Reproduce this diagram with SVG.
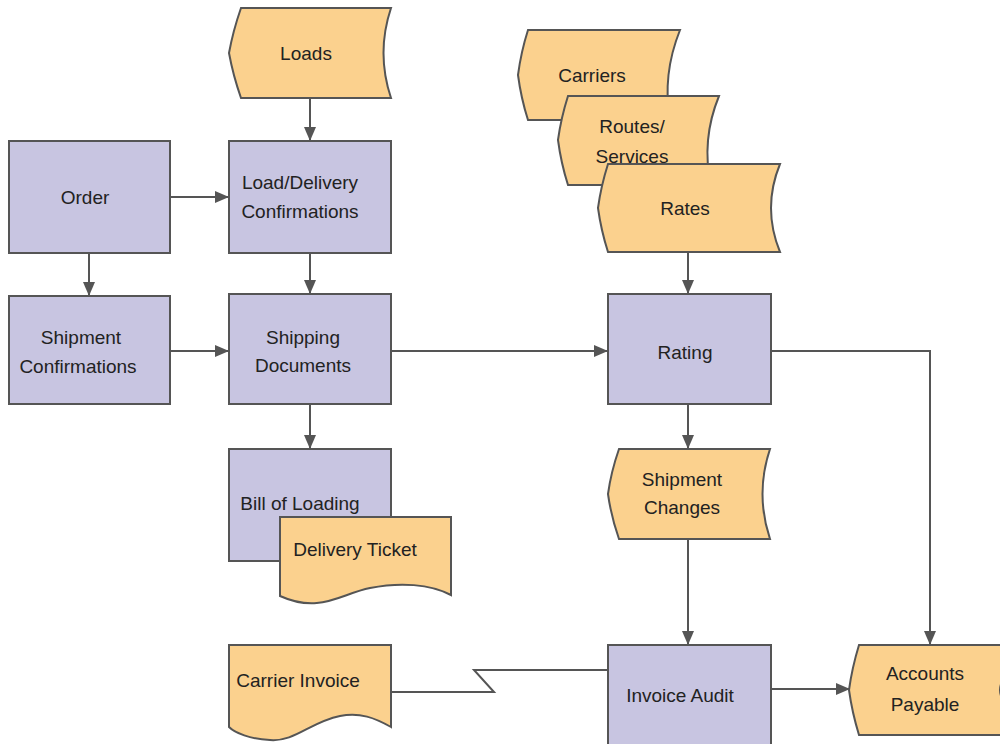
<svg xmlns="http://www.w3.org/2000/svg" width="1000" height="744" viewBox="0 0 1000 744">
<defs>
<style>
.proc{fill:#c8c5e1;stroke:#555;stroke-width:2}
.data{fill:#fbd18e;stroke:#555;stroke-width:2}
.t{font-family:"Liberation Sans",Arial,sans-serif;font-size:19px;fill:#222;text-anchor:middle}
.c{fill:none;stroke:#555;stroke-width:2}
</style>
<marker id="ah" viewBox="0 0 14 14" refX="14" refY="7" markerWidth="14" markerHeight="14" markerUnits="userSpaceOnUse" orient="auto">
<path d="M0,1 L14,7 L0,13 Z" fill="#555"/>
</marker>
</defs>
<rect width="1000" height="744" fill="#fff"/>
<g id="connectors">
<path class="c" d="M310,98 V141" marker-end="url(#ah)"/>
<path class="c" d="M170,197 H229" marker-end="url(#ah)"/>
<path class="c" d="M89,253 V296" marker-end="url(#ah)"/>
<path class="c" d="M310,253 V294" marker-end="url(#ah)"/>
<path class="c" d="M170,351 H229" marker-end="url(#ah)"/>
<path class="c" d="M391,351 H608" marker-end="url(#ah)"/>
<path class="c" d="M310,404 V449" marker-end="url(#ah)"/>
<path class="c" d="M688,252 V294" marker-end="url(#ah)"/>
<path class="c" d="M688,404 V449" marker-end="url(#ah)"/>
<path class="c" d="M688,539 V645" marker-end="url(#ah)"/>
<path class="c" d="M771,351 H930 V645" marker-end="url(#ah)"/>
<path class="c" d="M771,689 H850" marker-end="url(#ah)"/>
<path class="c" d="M391,692 H494 L474,670 H608"/>
</g>
<g id="loads">
<path class="data" d="M241,8 H391 Q376,53 391,98 H241 Q233,75 229,53 Q233,31 241,8 Z"/>
<text class="t" x="306" y="60">Loads</text>
</g>
<g id="order">
<rect class="proc" x="9" y="141" width="161" height="112"/>
<text class="t" x="85" y="204">Order</text>
</g>
<g id="load-delivery">
<rect class="proc" x="229" y="141" width="162" height="112"/>
<text class="t" x="300" y="189">Load/Delivery</text>
<text class="t" x="300" y="218">Confirmations</text>
</g>
<g id="shipment-confirmations">
<rect class="proc" x="9" y="296" width="161" height="108"/>
<text class="t" x="81" y="344">Shipment</text>
<text class="t" x="78" y="373">Confirmations</text>
</g>
<g id="shipping-documents">
<rect class="proc" x="229" y="294" width="162" height="110"/>
<text class="t" x="303" y="344">Shipping</text>
<text class="t" x="303" y="372">Documents</text>
</g>
<g id="carriers">
<path class="data" d="M528,30 H680 Q662,75 670,120 H528 Q521,98 518,75 Q521,52 528,30 Z"/>
<text class="t" x="592" y="82">Carriers</text>
</g>
<g id="routes-services">
<path class="data" d="M568,96 H719 Q701,140 711,185 H568 Q561,163 558,140 Q561,118 568,96 Z"/>
<text class="t" x="632" y="133">Routes/</text>
<text class="t" x="632" y="163">Services</text>
</g>
<g id="rates">
<path class="data" d="M608,164 H780 Q762,208 780,252 H608 Q601,230 598,208 Q601,186 608,164 Z"/>
<text class="t" x="685" y="215">Rates</text>
</g>
<g id="rating">
<rect class="proc" x="608" y="294" width="163" height="110"/>
<text class="t" x="685" y="359">Rating</text>
</g>
<g id="bill-of-loading">
<rect class="proc" x="229" y="449" width="162" height="112"/>
<text class="t" x="300" y="510">Bill of Loading</text>
</g>
<g id="delivery-ticket">
<path class="data" d="M280,517 H451 V595 C430,584 400,582 370,588 C340,594 320,614 280,596 Z"/>
<text class="t" x="355" y="556">Delivery Ticket</text>
</g>
<g id="shipment-changes">
<path class="data" d="M619,449 H770 Q755,494 770,539 H619 Q611,516 608,494 Q611,472 619,449 Z"/>
<text class="t" x="682" y="486">Shipment</text>
<text class="t" x="682" y="514">Changes</text>
</g>
<g id="carrier-invoice">
<path class="data" d="M229,645 H391 V727 C375,718 360,712 340,716 C310,722 295,742 270,740 C250,739 235,733 229,727 Z"/>
<text class="t" x="298" y="687">Carrier Invoice</text>
</g>
<g id="invoice-audit">
<rect class="proc" x="608" y="645" width="163" height="102"/>
<text class="t" x="680" y="702">Invoice Audit</text>
</g>
<g id="accounts-payable">
<path class="data" d="M859,645 H1010 V735 H859 Q852,712 849,690 Q852,668 859,645 Z"/>
<path class="c" d="M1005,677 Q995,690 1005,703"/>
<text class="t" x="925" y="680">Accounts</text>
<text class="t" x="925" y="711">Payable</text>
</g>
</svg>
